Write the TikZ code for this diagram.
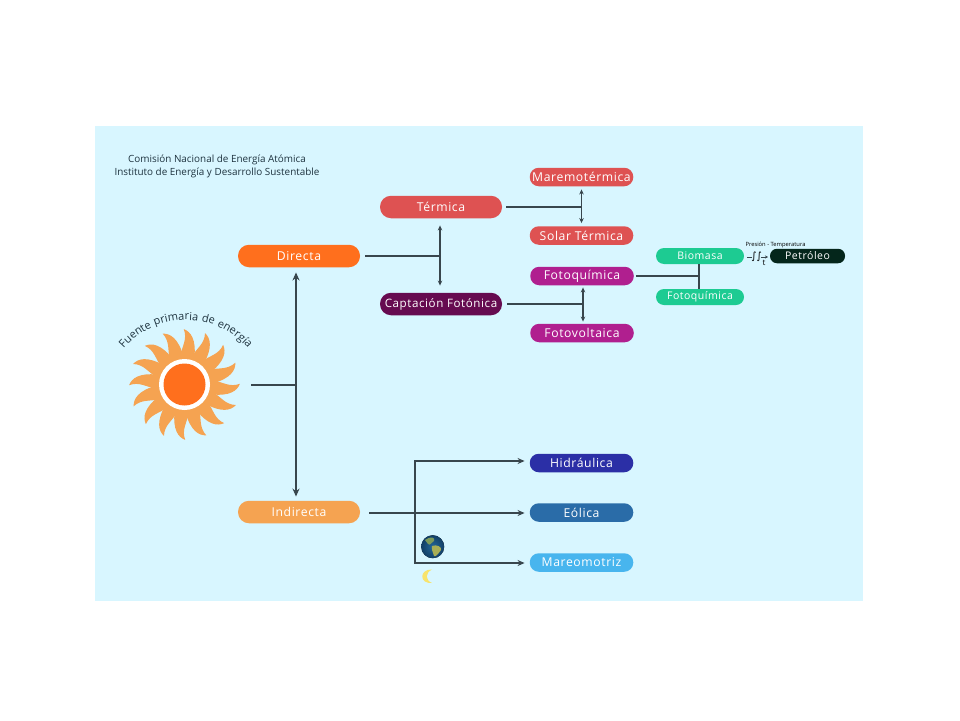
\documentclass[tikz,border=0pt]{standalone}
\usepackage{fontspec}
\setmainfont{Open Sans}
\newfontfamily\labfont[LetterSpace=5]{Open Sans}
\newfontfamily\dejafont{DejaVu Sans}
\usetikzlibrary{arrows.meta,decorations.text,calc}
\definecolor{bgc}{HTML}{D8F6FF}
\definecolor{linec}{HTML}{38464D}
\definecolor{rojo}{HTML}{DE5252}
\definecolor{naran}{HTML}{FF6F1D}
\definecolor{capta}{HTML}{660B50}
\definecolor{magen}{HTML}{B01F8F}
\definecolor{verde}{HTML}{1DCB92}
\definecolor{petro}{HTML}{04261B}
\definecolor{amar}{HTML}{F5A351}
\definecolor{azulh}{HTML}{2B2FA6}
\definecolor{azule}{HTML}{2A6CA8}
\definecolor{azulm}{HTML}{48B5EE}
\definecolor{titc}{HTML}{1F3440}
\definecolor{lunac}{HTML}{F8E36B}
\definecolor{mar1}{HTML}{24689A}
\definecolor{mar2}{HTML}{123F66}
\definecolor{tierra1}{HTML}{7C9A5A}
\definecolor{tierra2}{HTML}{A8AE55}
\tikzset{
  x=1pt,y=-1pt,
  pill/.style={fill=#1,text=white,font=\labfont\fontsize{12.2}{14}\selectfont,inner sep=0pt,anchor=center},
  big/.style={pill=#1,minimum width=122pt,minimum height=22.5pt,rounded corners=11pt},
  mid/.style={pill=#1,minimum width=103.5pt,minimum height=18.5pt,rounded corners=9pt},
  small/.style={pill=#1,minimum width=88pt,minimum height=16pt,rounded corners=8pt,font=\labfont\fontsize{10.5}{12}\selectfont},
  conn/.style={draw=linec,line width=2pt},
  thinconn/.style={draw=linec,line width=1.4pt},
  tip/.style={-{Stealth[length=7pt,width=6pt]}},
  tips/.style={{Stealth[length=5pt,width=4.5pt]}-{Stealth[length=5pt,width=4.5pt]}},
  tipb/.style={{Stealth[length=8pt,width=7pt]}-{Stealth[length=8pt,width=7pt]}},
  ray/.style={fill=amar,draw=none},
  mini/.style={font=\fontsize{5.8}{7}\selectfont,text=black,inner sep=0pt}
}
\begin{document}
\begin{tikzpicture}
\useasboundingbox (0,0) rectangle (960,720);
\fill[white] (0,0) rectangle (960,720);
\fill[bgc] (95,126) rectangle (863,601);

\node[align=center,text=titc,font=\fontsize{9.9}{13}\selectfont,inner sep=0pt] (tit) at (217,166) {Comisión Nacional de Energía Atómica\\Instituto de Energía y Desarrollo Sustentable};

% sun
\foreach \a in {0,22.5,...,337.5}{
  \begin{scope}[shift={(184.5,384.5)},rotate=\a-6]
    \fill[ray] (28,-6.8) .. controls (38,-6.8) and (45,-1.5) .. (55,-6.5)
      .. controls (53,1) and (46,7) .. (28,7) -- cycle;
  \end{scope}
}
\fill[amar] (184.5,384.5) circle (30.5);
\fill[white] (184.5,384.5) circle (25.5);
\fill[naran] (184.5,384.5) circle (21);
\coordinate (sun) at (251,385);
\path[postaction={decorate},decoration={text along path,text align=center,raise=0pt,
  text={|\fontsize{11}{13}\selectfont\color{titc}\labfont|Fuente primaria de energía}}]
  (123,349.3) arc[start angle=-140,end angle=-40,radius=82];

% nodes
\node[big=rojo] (term) at (441,207) {Térmica};
\node[big=naran] (dir) at (299,256) {Directa};
\node[big=capta,font=\labfont\fontsize{11.6}{14}\selectfont] (cap) at (441,304) {Captación Fotónica};
\node[big=amar] (ind) at (299,512) {Indirecta};
\node[mid=rojo] (mare) at (581.5,177) {Maremotérmica};
\node[mid=rojo] (solar) at (581.5,235.5) {Solar Térmica};
\node[mid=magen] (foto) at (582,276) {Fotoquímica};
\node[mid=magen] (volt) at (582,333) {Fotovoltaica};
\node[mid=azulh] (hid) at (581.5,463) {Hidráulica};
\node[mid=azule] (eol) at (581.5,512.5) {Eólica};
\node[mid=azulm] (mrz) at (581.5,562.5) {Mareomotriz};
\node[small=verde] (bio) at (700,256) {Biomasa};
\node[small=verde] (fq2) at (700,297) {Fotoquímica};
\node[pill=petro,minimum width=75pt,minimum height=14.5pt,rounded corners=7pt,font=\labfont\fontsize{10.5}{12}\selectfont] (pet) at (807.5,256) {Petróleo};
\node[mini] (pt) at (775.5,244.5) {Presión - Temperatura};
\node[mini,font=\dejafont\fontsize{10}{11}\selectfont] (int) at (756.5,257) {∫∫};
\node[mini,font=\fontsize{8}{9}\selectfont] (tt) at (764,263) {t};
\coordinate (d1) at (747,257);
\coordinate (d2) at (752,257);
\coordinate (d3) at (761,257);
\coordinate (d4) at (768,257);

% junctions
\coordinate (j1) at (440,256);
\coordinate (j2) at (581.5,207);
\coordinate (j3) at (583,304);
\coordinate (j4) at (699,276);
\coordinate (j5) at (296,385);
\coordinate (j6) at (415,461);
\coordinate (j7) at (415,563);
\coordinate (j8) at (415,513);

% connectors
\draw[conn] (sun) -- (j5);
\draw[conn,tipb,shorten >=4pt,shorten <=5pt] (j5 |- dir.south) -- (j5 |- ind.north);
\draw[conn,shorten <=5pt] (dir.east) -- (j1);
\draw[thinconn,tips,shorten >=7pt,shorten <=7pt] (j1 |- term.south) -- (j1 |- cap.north);
\draw[conn,shorten <=4pt] (term.east) -- (j2);
\draw[thinconn,tips,shorten >=3pt,shorten <=3pt] (mare.south) -- (solar.north);
\draw[conn,shorten <=5pt] (cap.east) -- (j3);
\draw[thinconn,tips,shorten >=2pt,shorten <=2pt] (j3 |- foto.south) -- (j3 |- volt.north);
\draw[conn,shorten <=2pt] (foto.east) -- (j4);
\draw[conn] (j4 |- bio.south) -- (j4 |- fq2.north);
\draw[conn,tip,shorten <=9pt,shorten >=5pt] (ind.east |- j8) -- (j8 -| eol.west);
\draw[conn,tip,shorten >=5pt] (j7) -- (j7 -| mrz.west);
\draw[conn,tip,shorten >=5pt] (j6) -- (j6 -| hid.west);
\draw[conn,line cap=rect] (j6) -- (j7);
\draw[draw=linec,line width=.6pt] (d1) -- (d2);
\draw[draw=linec,line width=.6pt,-{Stealth[length=3pt,width=3pt]}] (d3) -- (d4);

% earth
\fill[inner color=mar1,outer color=mar2] (432.7,546.7) circle (11.5);
\fill[tierra1] (425,540) .. controls (430,536) and (436,537) .. (434,541) .. controls (431,543) and (430,546) .. (428,544) -- cycle;
\fill[tierra2] (432,546) .. controls (437,544) and (442,547) .. (441,550) .. controls (438,554) and (436,557) .. (434,556) .. controls (433,552) and (431,549) .. (432,546) -- cycle;
% moon
\fill[lunac] (432,569.5) .. controls (419,569) and (419,584) .. (432,583) .. controls (425,580) and (425,573) .. (432,569.5) -- cycle;
\end{tikzpicture}
\end{document}
